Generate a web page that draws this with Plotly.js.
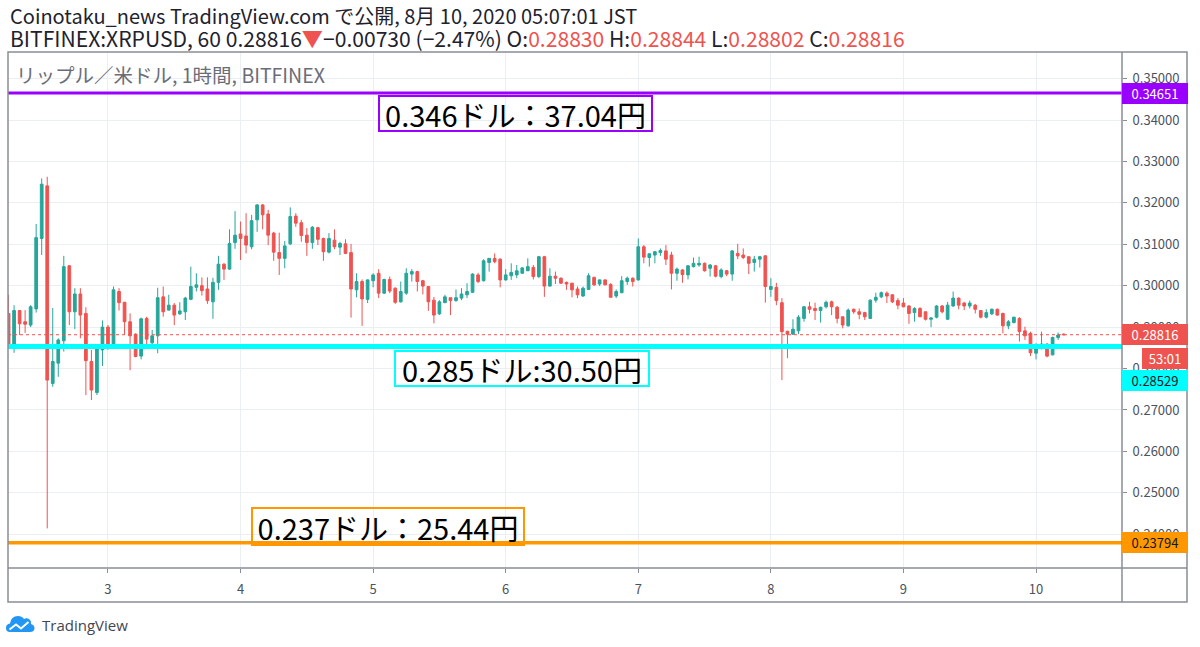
<!DOCTYPE html>
<html><head><meta charset="utf-8">
<script src="https://cdn.plot.ly/plotly-3.0.1.min.js"></script>
<style>html,body{margin:0;padding:0;background:#fff;}#chart{width:1200px;height:647px;}</style>
</head><body><div id="chart"></div>
<script>
// ===== DATA (hourly XRPUSD, JST) =====
const startTime = '2020-08-02 06:00';
const openP = [
0.2933,0.2859,0.2940,0.2913,0.2905,0.2944,0.3114,0.3241,0.2764,0.2813,
0.2867,0.3048,0.2937,0.2980,0.2933,0.2817,0.2742,0.2845,0.2900,0.2854,
0.2986,0.2960,0.2913,0.2883,0.2830,0.2921,0.2862,0.2879,0.2973,0.2941,
0.2953,0.2932,0.2937,0.2967,0.2996,0.3000,0.2992,0.2961,0.3008,0.3052,
0.3040,0.3104,0.3125,0.3120,0.3094,0.3159,0.3195,0.3173,0.3127,0.3080,
0.3066,0.3101,0.3168,0.3152,0.3122,0.3104,0.3140,0.3114,0.3081,0.3110,
0.3093,0.3101,0.3080,0.2990,0.3010,0.2967,0.3012,0.3030,0.2982,0.3015,
0.2994,0.2961,0.2982,0.3028,0.3034,0.3012,0.2998,0.2965,0.2932,0.2959,
0.2971,0.2964,0.2970,0.2978,0.2984,0.3026,0.3012,0.3056,0.3066,0.3064,
0.3014,0.3024,0.3026,0.3030,0.3036,0.3044,0.3022,0.3070,0.2999,0.3023,
0.3018,0.3008,0.3006,0.2992,0.2975,0.2991,0.3020,0.3004,0.3014,0.3003,
0.2975,0.2983,0.3010,0.3018,0.3014,0.3094,0.3068,0.3074,0.3080,0.3084,
0.3074,0.3030,0.3038,0.3026,0.3046,0.3050,0.3054,0.3042,0.3048,0.3022,
0.3036,0.3028,0.3078,0.3074,0.3070,0.3056,0.3064,0.3072,0.2991,0.2996,
0.2959,0.2890,0.2883,0.2891,0.2921,0.2949,0.2945,0.2940,0.2949,0.2961,
0.2948,0.2925,0.2903,0.2943,0.2937,0.2935,0.2921,0.2965,0.2973,0.2982,
0.2978,0.2964,0.2958,0.2951,0.2935,0.2945,0.2937,0.2919,0.2924,0.2951,
0.2919,0.2951,0.2970,0.2958,0.2951,0.2953,0.2940,0.2924,0.2932,0.2943,
0.2933,0.2903,0.2911,0.2921,0.2891,0.2885,0.2837,0.2849,0.2859,0.2833,
0.2875,0.28830];
const highP = [
0.2978,0.2953,0.2941,0.2941,0.2953,0.3149,0.3259,0.3263,0.2946,0.2873,
0.3072,0.3050,0.2994,0.2994,0.2948,0.2845,0.2854,0.2916,0.2905,0.2998,
0.2994,0.2960,0.2933,0.2885,0.2923,0.2925,0.2893,0.2995,0.2998,0.2978,
0.2958,0.2960,0.2973,0.3046,0.3030,0.3020,0.3020,0.3019,0.3072,0.3054,
0.3136,0.3180,0.3155,0.3175,0.3171,0.3197,0.3197,0.3183,0.3130,0.3128,
0.3108,0.3189,0.3175,0.3159,0.3139,0.3144,0.3142,0.3116,0.3127,0.3136,
0.3106,0.3112,0.3101,0.3030,0.3015,0.3015,0.3030,0.3040,0.3017,0.3022,
0.2996,0.3010,0.3042,0.3040,0.3036,0.3014,0.2999,0.2973,0.2965,0.2978,
0.2971,0.2991,0.2994,0.3006,0.3030,0.3031,0.3064,0.3066,0.3078,0.3066,
0.3040,0.3054,0.3050,0.3045,0.3066,0.3050,0.3072,0.3072,0.3042,0.3034,
0.3020,0.3010,0.3007,0.2998,0.2998,0.3030,0.3022,0.3015,0.3015,0.3006,
0.2991,0.3023,0.3022,0.3020,0.3114,0.3098,0.3078,0.3084,0.3090,0.3098,
0.3082,0.3044,0.3040,0.3050,0.3068,0.3070,0.3056,0.3052,0.3050,0.3042,
0.3038,0.3086,0.3101,0.3090,0.3070,0.3072,0.3072,0.3074,0.3018,0.3007,
0.2970,0.2891,0.2919,0.2929,0.2951,0.2961,0.2959,0.2949,0.2964,0.2964,
0.2951,0.2925,0.2945,0.2945,0.2945,0.2937,0.2967,0.2983,0.2986,0.2986,
0.2980,0.2970,0.2970,0.2953,0.2948,0.2948,0.2937,0.2924,0.2953,0.2953,
0.2961,0.2986,0.2972,0.2961,0.2964,0.2956,0.2941,0.2943,0.2945,0.2945,
0.2935,0.2917,0.2925,0.2924,0.2901,0.2889,0.2861,0.2889,0.2861,0.2877,
0.2887,0.28844];
const lowP = [
0.2853,0.2838,0.2881,0.2886,0.2900,0.2935,0.3074,0.2414,0.2756,0.2780,
0.2841,0.2905,0.2895,0.2873,0.2736,0.2724,0.2736,0.2806,0.2845,0.2849,
0.2940,0.2881,0.2796,0.2827,0.2822,0.2859,0.2849,0.2837,0.2925,0.2940,
0.2905,0.2929,0.2917,0.2965,0.2986,0.2976,0.2956,0.2920,0.2990,0.3014,
0.3038,0.3089,0.3062,0.3078,0.3088,0.3130,0.3136,0.3098,0.3060,0.3026,
0.3042,0.3098,0.3142,0.3106,0.3072,0.3089,0.3098,0.3060,0.3078,0.3088,
0.3074,0.3076,0.2923,0.2972,0.2903,0.2958,0.2996,0.2970,0.2980,0.2982,
0.2956,0.2959,0.2978,0.3010,0.2986,0.2979,0.2939,0.2909,0.2929,0.2958,
0.2929,0.2961,0.2965,0.2970,0.2982,0.3006,0.3010,0.3034,0.3054,0.2996,
0.3012,0.3014,0.3018,0.3029,0.3036,0.3015,0.3018,0.2973,0.2998,0.3004,
0.3004,0.2990,0.2972,0.2970,0.2973,0.2990,0.2999,0.2999,0.3001,0.2972,
0.2970,0.2982,0.3002,0.2998,0.3012,0.3054,0.3046,0.3054,0.3072,0.3050,
0.2991,0.3012,0.3007,0.3015,0.3044,0.3046,0.3034,0.3022,0.3020,0.3018,
0.3023,0.3012,0.3064,0.3064,0.3028,0.3034,0.3044,0.2959,0.2973,0.2953,
0.2772,0.2825,0.2881,0.2883,0.2913,0.2933,0.2917,0.2911,0.2945,0.2929,
0.2909,0.2897,0.2901,0.2932,0.2919,0.2917,0.2920,0.2959,0.2970,0.2958,
0.2958,0.2943,0.2948,0.2908,0.2913,0.2924,0.2916,0.2900,0.2921,0.2933,
0.2917,0.2949,0.2943,0.2941,0.2945,0.2933,0.2921,0.2921,0.2929,0.2927,
0.2885,0.2895,0.2909,0.2865,0.2869,0.2830,0.2822,0.2846,0.2827,0.2832,
0.2869,0.28802];
const closeP = [
0.2859,0.2940,0.2908,0.2907,0.2949,0.3116,0.3245,0.2772,0.2817,0.2869,
0.3046,0.2937,0.2980,0.2929,0.2819,0.2748,0.2851,0.2900,0.2853,0.2990,
0.2959,0.2913,0.2879,0.2829,0.2920,0.2871,0.2879,0.2971,0.2937,0.2953,
0.2929,0.2939,0.2970,0.2998,0.3002,0.2988,0.2964,0.3008,0.3052,0.3040,
0.3102,0.3122,0.3114,0.3098,0.3157,0.3195,0.3171,0.3122,0.3081,0.3066,
0.3096,0.3167,0.3151,0.3121,0.3104,0.3141,0.3112,0.3082,0.3114,0.3094,
0.3102,0.3078,0.2992,0.3010,0.2968,0.3014,0.3026,0.2982,0.3015,0.2987,
0.2960,0.2986,0.3030,0.3034,0.3010,0.2999,0.2961,0.2929,0.2961,0.2973,
0.2964,0.2971,0.2980,0.2986,0.3028,0.3010,0.3060,0.3066,0.3058,0.3014,
0.3026,0.3032,0.3036,0.3043,0.3046,0.3022,0.3070,0.2999,0.3023,0.3018,
0.3006,0.3004,0.2990,0.2978,0.2994,0.3024,0.3002,0.3014,0.3002,0.2972,
0.2986,0.3012,0.3018,0.3010,0.3094,0.3069,0.3077,0.3082,0.3085,0.3064,
0.3030,0.3040,0.3027,0.3048,0.3054,0.3054,0.3036,0.3050,0.3023,0.3038,
0.3028,0.3084,0.3072,0.3068,0.3054,0.3064,0.3070,0.2998,0.2998,0.2964,
0.2889,0.2883,0.2895,0.2924,0.2949,0.2943,0.2940,0.2948,0.2960,0.2949,
0.2921,0.2905,0.2941,0.2937,0.2931,0.2925,0.2965,0.2972,0.2983,0.2975,
0.2961,0.2953,0.2949,0.2933,0.2945,0.2925,0.2919,0.2922,0.2951,0.2937,
0.2953,0.2970,0.2953,0.2951,0.2958,0.2943,0.2924,0.2935,0.2943,0.2929,
0.2903,0.2913,0.2924,0.2889,0.2879,0.2838,0.2849,0.2859,0.2830,0.2875,
0.2881,0.28816];
const dayTicks = ['2020-08-03','2020-08-04','2020-08-05','2020-08-06','2020-08-07','2020-08-08','2020-08-09','2020-08-10'];
const dayLabels = ['3','4','5','6','7','8','9','10'];
const priceTicks = [0.24,0.25,0.26,0.27,0.28,0.29,0.30,0.31,0.32,0.33,0.34,0.35];
const levelPurple = 0.34651, levelCyan = 0.28529, levelOrange = 0.23794, lastPrice = 0.28816;
const countdown = '53:01';
const noteTop = '0.346ドル：37.04円', noteMid = '0.285ドル:30.50円', noteLow = '0.237ドル：25.44円';
const header1 = 'Coinotaku_news TradingView.com で公開, 8月 10, 2020 05:07:01 JST';
const symbolTitle = 'リップル／米ドル, 1時間, BITFINEX';

// ===== BUILD =====
function hourSeries(start, n){
  const [d,t] = start.split(' ');
  const [Y,M,D] = d.split('-').map(Number);
  const base = Date.UTC(Y, M-1, D, Number(t.split(':')[0]));
  const out = [];
  for (let k=0;k<n;k++){ out.push(new Date(base + k*3600000).toISOString().slice(0,16).replace('T',' ')); }
  return out;
}
const times = hourSeries(startTime, openP.length);
const UP = '#26a69a', DN = '#ef5350';
const PL=8, PR=1122, PT=52, PB=568;
const px2x = x => (x-PL)/(PR-PL);
const px2y = y => (PB-y)/(PB-PT);
const p = (x,y) => px2x(x).toFixed(5)+','+px2y(y).toFixed(5);
const FONT = '"Noto Sans CJK JP", "Noto Sans", sans-serif';
const red = s => '<span style="color:'+DN+'">'+s+'</span>';
const header2 = 'BITFINEX:XRPUSD, 60 0.28816'+red('▼')+'−0.00730 (−2.47%) O:'+red(openP[openP.length-1].toFixed(5))+
  ' H:'+red(highP[highP.length-1].toFixed(5))+' L:'+red(lowP[lowP.length-1].toFixed(5))+' C:'+red(closeP[closeP.length-1].toFixed(5));

const trace = {
  type:'candlestick', x:times, open:openP, high:highP, low:lowP, close:closeP,
  increasing:{line:{color:UP,width:1},fillcolor:UP},
  decreasing:{line:{color:DN,width:1},fillcolor:DN},
  whiskerwidth:0, hoverinfo:'skip', showlegend:false
};

const frameCol = '#8a8d96';
const shapes = [
  {type:'line',xref:'paper',yref:'y',x0:0,x1:1,y0:lastPrice,y1:lastPrice,line:{color:DN,width:1,dash:'dot'},layer:'above'},
  {type:'line',xref:'paper',yref:'y',x0:0,x1:1,y0:levelPurple,y1:levelPurple,line:{color:'#9900ff',width:3},layer:'above'},
  {type:'line',xref:'paper',yref:'y',x0:0,x1:1,y0:levelCyan,y1:levelCyan,line:{color:'#00ffff',width:5},layer:'above'},
  {type:'line',xref:'paper',yref:'y',x0:0,x1:1,y0:levelOrange,y1:levelOrange,line:{color:'#ff9800',width:3.5},layer:'above'},
  {type:'rect',xref:'paper',yref:'paper',x0:0,x1:px2x(1187),y0:px2y(602),y1:1,line:{color:frameCol,width:1.5},layer:'above'},
  {type:'line',xref:'paper',yref:'paper',x0:1,x1:1,y0:px2y(602),y1:1,line:{color:frameCol,width:1.5},layer:'above'},
  {type:'line',xref:'paper',yref:'paper',x0:0,x1:px2x(1187),y0:0,y1:0,line:{color:frameCol,width:1.5},layer:'above'},
  {type:'path',xref:'paper',yref:'paper',layer:'above',fillcolor:'#2196f3',line:{width:0},
   path:'M '+p(10,632)+' Q '+p(6,632)+' '+p(6,628)+' Q '+p(6,624)+' '+p(10,623.5)+' Q '+p(11,616)+' '+p(18,616)+
        ' Q '+p(22,616)+' '+p(24,619)+' Q '+p(27,617.5)+' '+p(29.5,619.5)+' Q '+p(31.5,621)+' '+p(31,624)+
        ' Q '+p(34.5,625)+' '+p(34.5,628)+' Q '+p(34.5,632)+' '+p(30,632)+' Z'},
  {type:'path',xref:'paper',yref:'paper',layer:'above',line:{color:'#ffffff',width:2},
   path:'M '+p(9.5,629.5)+' L '+p(16,624.5)+' L '+p(21,628.5)+' L '+p(28.5,622)}
];

const axLabel = (text, yref, y, bg, fg, x, xanchor, w) => ({
  text, xref:'paper', yref, x: x===undefined?1:x, xanchor: xanchor||'left', y, yanchor:'middle',
  showarrow:false, bgcolor:bg, font:{family:FONT,size:13,color:fg}, width:w||64, height:19, borderpad:1, borderwidth:0
});
const noteBox = (text, left, top, w, h, col) => ({
  text, xref:'paper', yref:'paper', x:px2x(left), y:px2y(top), xanchor:'left', yanchor:'top',
  showarrow:false, width:w-6, height:h-6, borderpad:1, borderwidth:2, bordercolor:col,
  bgcolor:'rgba(255,255,255,0)', font:{family:FONT,size:29,color:'#000'}
});

const annotations = [
  {text:header1, xref:'paper', yref:'paper', x:0, xanchor:'left', y:px2y(15), yanchor:'middle', showarrow:false,
   font:{family:FONT,size:20,color:'#1e222d'}},
  {text:header2, xref:'paper', yref:'paper', x:0, xanchor:'left', y:px2y(38), yanchor:'middle', showarrow:false,
   font:{family:FONT,size:21.1,color:'#1e222d'}},
  {text:symbolTitle, xref:'paper', yref:'paper', x:px2x(14), xanchor:'left', y:px2y(75), yanchor:'middle', showarrow:false,
   font:{family:FONT,size:19.5,color:'#6a6d78'}},
  noteBox(noteTop, 378, 95, 275, 37, '#9900ff'),
  noteBox(noteMid, 394, 350, 256, 37, '#00ffff'),
  noteBox(noteLow, 251, 507, 274, 39, '#ff9800'),
  axLabel(levelPurple.toFixed(5), 'y', levelPurple, '#9900ff', '#ffffff'),
  axLabel(lastPrice.toFixed(5), 'y', lastPrice, DN, '#ffffff'),
  axLabel(countdown, 'paper', px2y(358.5), DN, '#ffffff', px2x(1142), 'left', 44),
  axLabel(levelCyan.toFixed(5), 'paper', px2y(380), '#00ffff', '#131722'),
  axLabel(levelOrange.toFixed(5), 'y', levelOrange, '#ff9800', '#131722'),
  {text:'TradingView', xref:'paper', yref:'paper', x:px2x(40), xanchor:'left', y:px2y(625), yanchor:'middle', showarrow:false,
   font:{family:'"Open Sans", sans-serif',size:15,color:'#434651'}}
];

const layout = {
  width:1200, height:647, margin:{l:PL, r:1200-PR, t:PT, b:647-PB}, paper_bgcolor:'#fff', plot_bgcolor:'#fff',
  font:{family:FONT}, showlegend:false, dragmode:false,
  xaxis:{type:'date', range:['2020-08-02 05:54','2020-08-10 15:34'], tickvals:dayTicks, ticktext:dayLabels,
    showgrid:true, gridcolor:'#ebeff4', gridwidth:1, ticks:'outside', ticklen:4, tickcolor:frameCol,
    tickfont:{family:FONT,size:13,color:'#4c525e'}, ticklabelstandoff:5, showline:false, zeroline:false,
    rangeslider:{visible:false}, fixedrange:true},
  yaxis:{side:'right', range:[0.23184,0.35642], tickvals:priceTicks, ticktext:priceTicks.map(v=>v.toFixed(5)),
    showgrid:true, gridcolor:'#ebeff4', gridwidth:1, ticks:'outside', ticklen:4, tickcolor:frameCol,
    tickfont:{family:FONT,size:13,color:'#4c525e'}, ticklabelstandoff:3, showline:false, zeroline:false, fixedrange:true},
  shapes, annotations
};
Plotly.newPlot('chart', [trace], layout, {displayModeBar:false, staticPlot:true});
</script></body></html>
